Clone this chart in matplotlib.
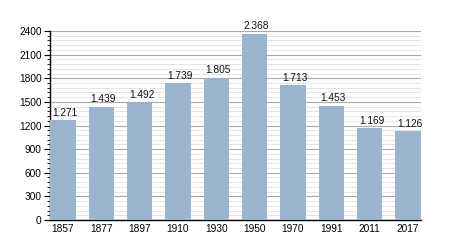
import matplotlib
matplotlib.use("Agg")
import matplotlib.pyplot as plt
import matplotlib.transforms as mtransforms
from matplotlib.ticker import MultipleLocator

years = ["1857", "1877", "1897", "1910", "1930", "1950", "1970", "1991", "2011", "2017"]
population = [1271, 1439, 1492, 1739, 1805, 2368, 1713, 1453, 1169, 1126]
labels = ["1.271", "1.439", "1.492", "1.739", "1.805", "2.368", "1.713", "1.453", "1.169", "1.126"]

plt.rcParams['font.family'] = ['Liberation Sans', 'DejaVu Sans']
fig = plt.figure(figsize=(4.5, 2.5), dpi=100)
ax = fig.add_axes([50/450, 1-220/250, 371/450, 189/250])

x = list(range(len(years)))
ax.bar(x, population, width=0.66, color="#9ab3cf", zorder=3)
shift = ax.transData + mtransforms.ScaledTranslation(0.02, 0, fig.dpi_scale_trans)
for xi, v, lab in zip(x, population, labels):
    ax.text(xi, v + 30, lab, ha="center", va="bottom", fontsize=7.3,
            color="#111111", zorder=4, transform=shift)

ax.set_xlim(-0.34, len(years) - 1 + 0.34)
ax.set_ylim(0, 2400)
ax.yaxis.set_major_locator(MultipleLocator(300))
ax.yaxis.set_minor_locator(MultipleLocator(60))
ax.grid(which="major", axis="y", color="#a8a8a8", linewidth=0.8, zorder=1)
ax.grid(which="minor", axis="y", color="#e0e0e0", linewidth=0.6, zorder=0)
ax.set_xticks(x)
ax.set_xticklabels(years)
ax.tick_params(axis="x", length=0, labelsize=7.3, pad=3)
ax.tick_params(axis="y", which="major", length=4, width=0.8, labelsize=7.3, pad=2)
ax.tick_params(axis="y", which="minor", length=2, width=0.6)
for s in ["top", "right"]:
    ax.spines[s].set_visible(False)
ax.spines["left"].set_linewidth(1.0)
ax.spines["bottom"].set_linewidth(1.0)

fig.savefig("out.png", dpi=100)
